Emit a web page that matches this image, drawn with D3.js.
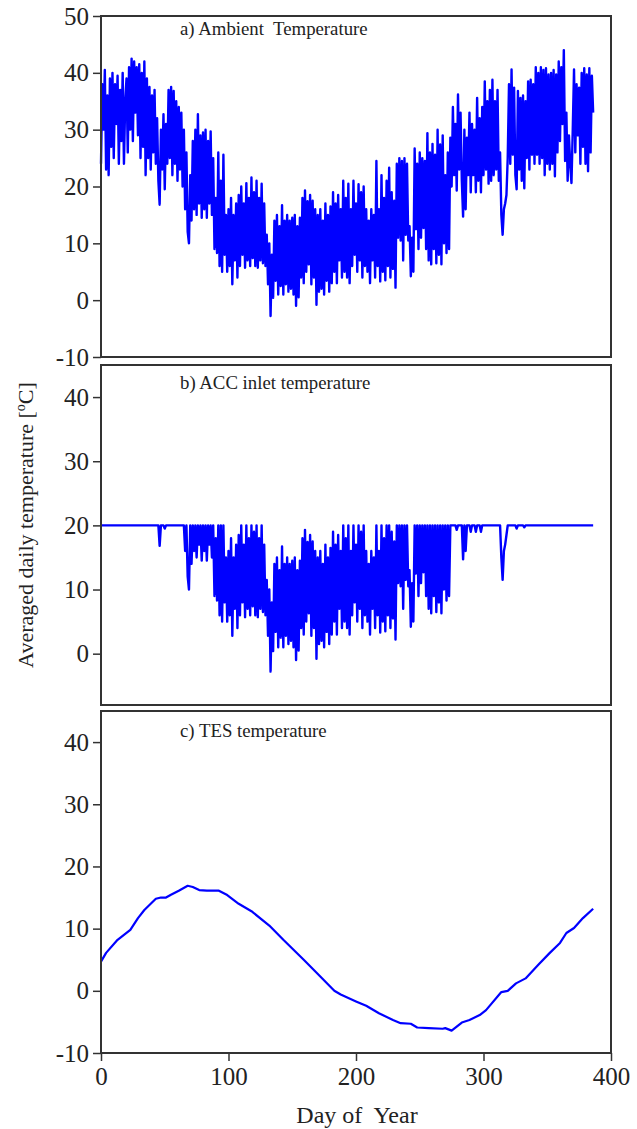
<!DOCTYPE html>
<html><head><meta charset="utf-8">
<script src="https://cdn.jsdelivr.net/npm/d3@7"></script>
<style>
body{margin:0;background:#fff}
svg{display:block}
svg text{font-family:"Liberation Serif","Times New Roman",Times,"DejaVu Serif",serif !important;fill:#222}
</style></head>
<body><svg id="chart" width="637" height="1129"></svg>
<script>
// a) ambient temperature, one value per day starting at day 0
const ambientTemp = [
24,38,30,40.5,23,36,22,39,27,40,
25,38,31,39.5,24,37,28,40,24,35,
39,26,41,30,42.5,28,42,33,41,29,
41.5,25,40,27,42,22,39,25,37.5,23,
36,26,37,24,32,21,16.8,30,23,32.7,
19.5,31,24,37,25,37.5,22,36.8,24,35,
21,34,23,33,20,30,16,26,12,10,
22,14,28,16,30,15,32.7,17,29,14.5,
29.5,16,30,14.5,28,17,29.7,15,25,9,
18,8.3,26,6,21,5,25.6,8,15,5,
16,6,18,2.8,15,7,17,4,18.5,6,
20,8,17,5.7,20.6,7,18,6,21.6,7.4,
19,6,21,5.7,18,7,20.5,6.5,17,6,
11.5,2.8,10,-2.8,8,0.4,14,3.4,15,1,
13,2.5,16.7,1,14,2.8,15,1.5,14,2,
14.5,1,15,-1,13,0.5,14.5,4,18,3,
19.3,5,17.4,6.3,18.5,2.8,17.5,4,16,-0.8,
15,1.5,16,2,14,1,17,3.4,15,1.5,
16.5,3,19,5,17,3,18.5,7,16,4,
21,5,18,4,20.5,3,16,6,21,8,
17,5,20.4,7,19,4,20,6,16,5,
14,3,16,7,15,4,24.5,6,16,3.3,
22,5,18,3.5,21,6,23.3,4,19,5.5,
17.5,2.2,24,11,25,10.5,24.5,7,25,11.5,
24,10.5,13,4.2,11,5,26.7,12.5,24,9,
26,11,25,12.7,24.5,9,29.4,7,26,6.3,
27.5,9,25.6,6.5,30,8,27.4,6.3,29,10,
22,8.3,26,9,28.6,20,34,22,31,19.3,
36.2,23,33,21,14.7,30,16,28.6,22,33,
19,31,22,30,19,35.6,21,32,19,34,
22,38.5,23,35,20.5,37,21,38.8,22,35,
23,37,21,26,15,11.5,16,17,18.5,25,
38,24,40.6,25.6,37.4,22,19.5,36.8,23,35.6,
21,36,19.7,35,25,38.5,23,38.8,25.6,38,
24,41,25.6,40,24,41,25,40.5,22,40.8,
24,39.7,23,40,24,40.5,21.8,39.7,26,42,
28,41,31,44,24.5,33,21,29,24,20.6,
30,40.6,26,38,29,37.4,24,40,27,40.8,
24,39.7,22.7,40.8,26,39.5,33
];

// b) ACC inlet temperature, one value per day starting at day 0
const accInletTemp = [
20,20,20,20,20,20,20,20,20,20,
20,20,20,20,20,20,20,20,20,20,
20,20,20,20,20,20,20,20,20,20,
20,20,20,20,20,20,20,20,20,20,
20,20,20,20,20,20,16.8,20,20,20,
19.5,20,20,20,20,20,20,20,20,20,
20,20,20,20,20,20,16,20,12,10,
20,14,20,16,20,15,20,17,20,14.5,
20,16,20,14.5,20,17,20,15,20,9,
18,8.3,20,6,20,5,20,8,15,5,
16,6,18,2.8,15,7,17,4,18.5,6,
20,8,17,5.7,20,7,18,6,20,7.4,
19,6,20,5.7,18,7,20,6.5,17,6,
11.5,2.8,10,-2.8,8,0.4,14,3.4,15,1,
13,2.5,16.7,1,14,2.8,15,1.5,14,2,
14.5,1,15,-1,13,0.5,14.5,4,18,3,
19.3,5,17.4,6.3,18.5,2.8,17.5,4,16,-0.8,
15,1.5,16,2,14,1,17,3.4,15,1.5,
16.5,3,19,5,17,3,18.5,7,16,4,
20,5,18,4,20,3,16,6,20,8,
17,5,20,7,19,4,20,6,16,5,
14,3,16,7,15,4,20,6,16,3.3,
20,5,18,3.5,20,6,20,4,19,5.5,
17.5,2.2,20,11,20,10.5,20,7,20,11.5,
20,10.5,13,4.2,11,5,20,12.5,20,9,
20,11,20,12.7,20,9,20,7,20,6.3,
20,9,20,6.5,20,8,20,6.3,20,10,
20,8.3,20,9,20,20,20,20,20,19.3,
20,20,20,20,14.7,20,16,20,20,20,
19,20,20,20,19,20,20,20,19,20,
20,20,20,20,20,20,20,20,20,20,
20,20,20,20,15,11.5,16,17,18.5,20,
20,20,20,20,20,20,19.5,20,20,20,
20,20,19.7,20,20,20,20,20,20,20,
20,20,20,20,20,20,20,20,20,20,
20,20,20,20,20,20,20,20,20,20,
20,20,20,20,20,20,20,20,20,20,
20,20,20,20,20,20,20,20,20,20,
20,20,20,20,20,20,20
];

// c) TES temperature
const tesDays = [0,4,13,23,29,34,39,43,47,51,54.5,61,68,72,77,83,92.5,99,108,118,132,143,159,172,183,188,200,208,218,229,235,243,248,257,268,270,275,283,289,297,302,314,319,325.5,333,343,352,360,365,371,378,386];
const tesTemp = [4.7,6.1,8.2,9.8,11.7,13.0,14.0,14.8,15.0,15.0,15.4,16.1,16.9,16.7,16.2,16.1,16.1,15.4,14.0,12.8,10.5,8.2,5.0,2.3,0,-0.6,-1.7,-2.4,-3.6,-4.7,-5.2,-5.3,-5.9,-6.0,-6.1,-6.0,-6.4,-5.1,-4.7,-3.9,-3.1,-0.2,0,1.2,2.0,4.2,6.1,7.7,9.3,10.1,11.7,13.2];

const panelTitles = ["a) Ambient  Temperature", "b) ACC inlet temperature", "c) TES temperature"];
const ticksA = [-10,0,10,20,30,40,50];
const ticksB = [0,10,20,30,40];
const ticksC = [-10,0,10,20,30,40];
const dayTicks = [0,100,200,300,400];
const xLabel = "Day of  Year";

const FONT = '"Liberation Serif","Times New Roman",Times,"DejaVu Serif",serif';
const svg = d3.select("#chart");
const x = d3.scaleLinear().domain([0,400]).range([101,611]);

const panels = [
  {top:16,  bottom:357,  domain:[-10,50], ticks:ticksA, title:panelTitles[0], titleY:35,
   data: ambientTemp.map((v,i)=>[i,v])},
  {top:365, bottom:705,  domain:[-8,45],  ticks:ticksB, title:panelTitles[1], titleY:389,
   data: accInletTemp.map((v,i)=>[i,v])},
  {top:711, bottom:1053, domain:[-10,45], ticks:ticksC, title:panelTitles[2], titleY:737,
   data: tesDays.map((d,i)=>[d,tesTemp[i]])}
];

panels.forEach((p, k) => {
  const y = d3.scaleLinear().domain(p.domain).range([p.bottom, p.top]);
  const g = svg.append("g");
  const ax = g.append("g").attr("transform","translate(101,0)")
    .call(d3.axisLeft(y).tickValues(p.ticks).tickSize(8).tickPadding(4).tickFormat(d=>String(d)));
  ax.attr("font-family", FONT);
  ax.select(".domain").remove();
  ax.selectAll("line").attr("stroke","#333").attr("stroke-width",1.5);
  ax.selectAll("text").attr("font-size","25px").attr("fill","#222");

  const line = d3.line().x(d=>x(d[0])).y(d=>y(d[1]));
  g.append("path").datum(p.data).attr("d", line)
    .attr("fill","none").attr("stroke","#0000ff").attr("stroke-width", k===2 ? 2.2 : 2.4)
    .attr("stroke-linejoin","round");

  g.append("rect").attr("x",101).attr("y",p.top).attr("width",510).attr("height",p.bottom-p.top)
    .attr("fill","none").attr("stroke","#333").attr("stroke-width",2);

  g.append("text").attr("x",180).attr("y",p.titleY).attr("xml:space","preserve").style("white-space","pre")
    .attr("font-family", FONT).attr("font-size","18.8px").text(p.title);

  if (k===2) {
    const bx = g.append("g").attr("transform",`translate(0,${p.bottom})`)
      .call(d3.axisBottom(x).tickValues(dayTicks).tickSize(8).tickPadding(6).tickFormat(d=>String(d)));
    bx.attr("font-family", FONT);
    bx.select(".domain").remove();
    bx.selectAll("line").attr("stroke","#333").attr("stroke-width",1.5);
    bx.selectAll("text").attr("font-size","25px").attr("fill","#222");
  }
});

svg.append("text").attr("x",357).attr("y",1123).attr("text-anchor","middle")
  .attr("font-family", FONT).style("white-space","pre").attr("font-size","24px").text(xLabel);

const yl = svg.append("text").attr("transform","translate(33,525) rotate(-90)")
  .attr("font-family", FONT).attr("text-anchor","middle").attr("font-size","22px");
yl.append("tspan").text("Averaged daily temperature [");
yl.append("tspan").attr("dy","-8").attr("font-size","14px").text("o");
yl.append("tspan").attr("dy","8").text("C]");
</script></body></html>
